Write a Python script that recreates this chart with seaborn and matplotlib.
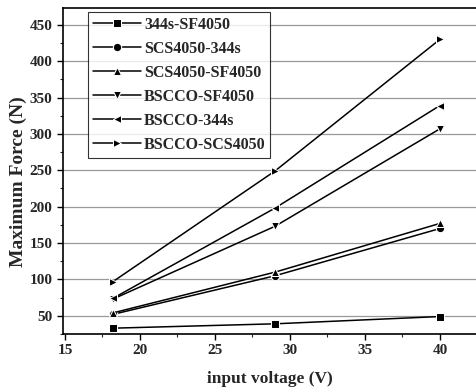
import matplotlib
matplotlib.use("Agg")
import matplotlib.pyplot as plt
import seaborn as sns
import pandas as pd
from matplotlib.ticker import MultipleLocator

voltage = [18.2, 29, 40]
series_names = ["344s-SF4050", "SCS4050-344s", "SCS4050-SF4050",
                "BSCCO-SF4050", "BSCCO-344s", "BSCCO-SCS4050"]
f_344s_sf4050 = [33, 39, 49]
f_scs4050_344s = [52, 105, 170]
f_scs4050_sf4050 = [54, 110, 177]
f_bscco_sf4050 = [73, 173, 307]
f_bscco_344s = [74, 198, 339]
f_bscco_scs4050 = [97, 249, 430]
all_series = [f_344s_sf4050, f_scs4050_344s, f_scs4050_sf4050,
              f_bscco_sf4050, f_bscco_344s, f_bscco_scs4050]

rows = []
for name, vals in zip(series_names, all_series):
    for v, f in zip(voltage, vals):
        rows.append({"Voltage": v, "Force": f, "Series": name})
df = pd.DataFrame(rows)

sns.set_theme(style="ticks")
plt.rcParams["font.family"] = ["Liberation Serif", "DejaVu Serif"]
plt.rcParams["font.weight"] = "bold"

fig = plt.figure(figsize=(4.76, 3.92), dpi=100)
ax = fig.add_axes([63/476, 1-334/392, 1-63/476, (334-8)/392])

markers = ["s", "o", "^", "v", "<", ">"]
sns.lineplot(data=df, x="Voltage", y="Force", hue="Series", style="Series",
             hue_order=series_names, style_order=series_names,
             palette=["black"]*6, markers=markers, dashes=False,
             markersize=6, linewidth=1.1, ax=ax, zorder=3)

ax.set_xlim(14.87, 42.4)
ax.set_ylim(25, 473)
ax.xaxis.set_major_locator(MultipleLocator(5))
ax.xaxis.set_minor_locator(MultipleLocator(2.5))
ax.yaxis.set_major_locator(MultipleLocator(50))
ax.yaxis.set_minor_locator(MultipleLocator(25))
ax.yaxis.grid(True, which="major", color="#999999", linewidth=0.9)
ax.tick_params(axis="both", which="major", direction="out", length=4, width=1,
               labelsize=11, color="black")
ax.tick_params(axis="both", which="minor", direction="out", length=2, width=0.8)
for lab in ax.get_xticklabels() + ax.get_yticklabels():
    lab.set_fontweight("bold")
for s in ["left", "bottom", "top"]:
    ax.spines[s].set_color("black")
    ax.spines[s].set_linewidth(1.2)
ax.spines["right"].set_visible(False)

ax.set_xlabel("input voltage (V)", fontsize=12.5, fontweight="bold", labelpad=10)
ax.set_ylabel("Maximum Force (N)", fontsize=14, fontweight="bold")
ax.yaxis.set_label_coords(-0.088, 0.466)

leg = ax.legend(loc="upper left", bbox_to_anchor=(25/413, 1-4/326),
                frameon=True, fancybox=False, edgecolor="black",
                prop={"weight": "bold", "size": 11.5}, handlelength=3.0,
                borderaxespad=0, labelspacing=0.5, borderpad=0.3,
                handletextpad=0.2)
leg.get_frame().set_linewidth(0.8)
leg.set_zorder(5)

fig.savefig("out.png", dpi=100)
